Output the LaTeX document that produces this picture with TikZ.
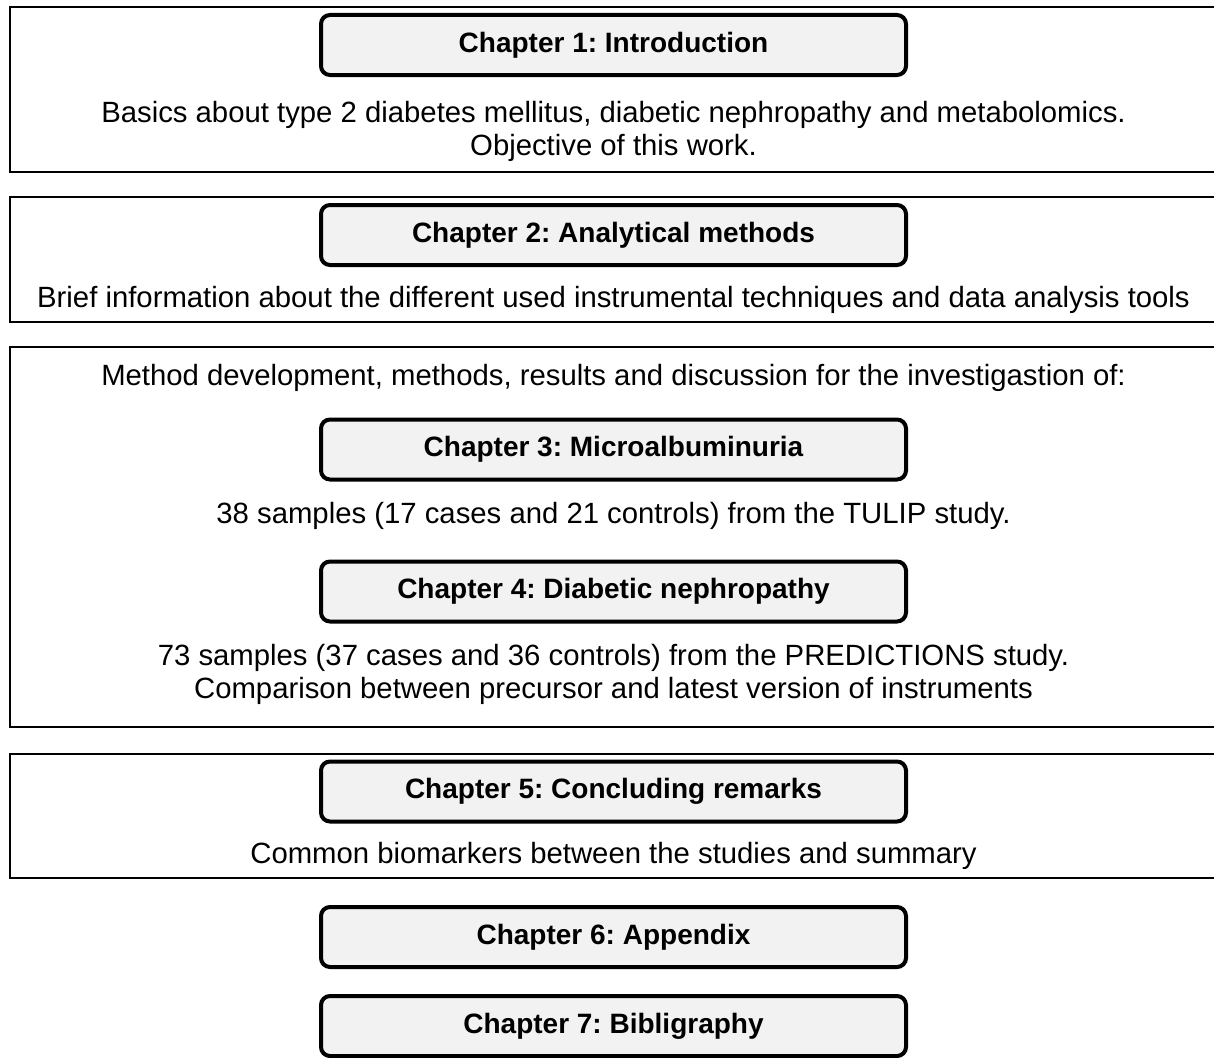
\documentclass[tikz,border=0pt]{standalone}
\usepackage{fontspec}
\setmainfont{Liberation Sans}
\usetikzlibrary{positioning}
\frenchspacing

\begin{document}
\begin{tikzpicture}[
    x=1pt, y=-1pt,
    frame/.style={draw, line width=1.8pt, minimum width=1220pt, inner sep=0pt},
    chapter/.style={draw, line width=4pt, rounded corners=9pt, fill=gray!10,
        minimum width=585pt, minimum height=60pt, inner sep=0pt,
        font=\fontsize{28}{33}\selectfont\bfseries},
    desc/.style={anchor=base, align=center, inner sep=0pt,
        font=\fontsize{29.3}{33}\selectfont}
]
\useasboundingbox (0,0) rectangle (1214,1057);
\clip (0,0) rectangle (1214,1057);

% outer frames
\node[frame, minimum height=165pt] (f1) at (620,89.5) {};
\node[frame, minimum height=125pt] (f2) at (620,259.5) {};
\node[frame, minimum height=380pt] (f3) at (620,537) {};
\node[frame, minimum height=124pt] (f4) at (620,816) {};

% chapters (base of two-line text = last line)
\node[chapter] (c1) at (613.5,45) {Chapter 1: Introduction};
\node[desc] (t1) at (613.5,155) {Basics about type 2 diabetes mellitus, diabetic nephropathy and metabolomics.\\Objective of this work.};

\node[chapter] (c2) at (613.5,235) {Chapter 2: Analytical methods};
\node[desc] (t2) at (613.5,307) {Brief information about the different used instrumental techniques and data analysis tools};

\node[desc] (t3) at (613.5,385) {Method development, methods, results and discussion for the investigastion of:};
\node[chapter] (c3) at (613.5,449.5) {Chapter 3: Microalbuminuria};
\node[desc] (t3a) at (613.5,523) {38 samples (17 cases and 21 controls) from the TULIP study.};
\node[chapter] (c4) at (613.5,591.5) {Chapter 4: Diabetic nephropathy};
\node[desc] (t4) at (613.5,698) {73 samples (37 cases and 36 controls) from the PREDICTIONS study.\\Comparison between precursor and latest version of instruments};

\node[chapter] (c5) at (613.5,791.5) {Chapter 5: Concluding remarks};
\node[desc] (t5) at (613.5,863) {Common biomarkers between the studies and summary};

\node[chapter] (c6) at (613.5,937) {Chapter 6: Appendix};
\node[chapter] (c7) at (613.5,1026) {Chapter 7: Bibligraphy};
\end{tikzpicture}
\end{document}
